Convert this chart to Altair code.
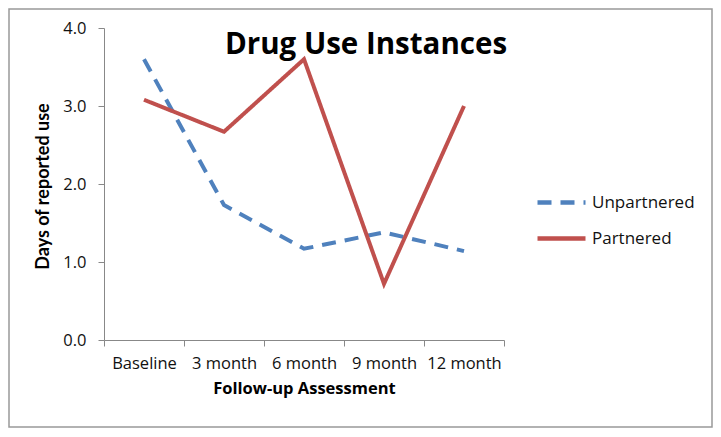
import altair as alt
import pandas as pd

categories = ["Baseline", "3 month", "6 month", "9 month", "12 month"]
unpartnered = [3.60, 1.73, 1.17, 1.38, 1.14]
partnered = [3.08, 2.67, 3.60, 0.72, 3.00]
series_names = ["Unpartnered", "Partnered"]
y_ticks = [0, 1, 2, 3, 4]
chart_title = "Drug Use Instances"

rows = []
for name, vals in zip(series_names, [unpartnered, partnered]):
    for c, v in zip(categories, vals):
        rows.append({"time": c, "value": v, "group": name})
df = pd.DataFrame(rows)

FONT = "Open Sans"
PLOT_L, PLOT_T = 104, 28
W, H = 400, 312

lines = alt.Chart(df).mark_line(strokeWidth=4).encode(
    x=alt.X("time:N", sort=categories,
            scale=alt.Scale(type="band", paddingInner=0, paddingOuter=0),
            axis=alt.Axis(title="Follow-up Assessment", labelAngle=0, tickBand="extent",
                          labelFontSize=16.5, labelColor="#111", labelPadding=9,
                          titleFontSize=16.5, titleFontWeight="bold", titleColor="#000",
                          titlePadding=9, domainColor="#888", tickColor="#888",
                          tickSize=6, grid=False, labelFont=FONT, titleFont=FONT)),
    y=alt.Y("value:Q", scale=alt.Scale(domain=[0, 4]),
            axis=alt.Axis(title="Days of reported use", values=y_ticks, format=".1f",
                          labelFontSize=16.5, labelColor="#111", labelPadding=12,
                          titleFontSize=18, titleFontWeight="bold", titleColor="#000",
                          titleX=-61, titleY=158, titleAngle=-90, titleBaseline="middle",
                          domainColor="#888", tickColor="#888",
                          tickSize=6, grid=False, labelFont=FONT, titleFont="Lato")),
    color=alt.Color("group:N", sort=series_names,
                    scale=alt.Scale(domain=series_names, range=["#4F81BD", "#C0504D"]),
                    legend=alt.Legend(title=None, orient="none", legendX=431, legendY=148,
                                      symbolType="stroke", symbolSize=2304, symbolStrokeWidth=4.5,
                                      labelFontSize=17, labelFont=FONT, labelColor="#111",
                                      rowPadding=-15, labelOffset=4)),
    strokeDash=alt.StrokeDash("group:N", sort=series_names,
                              scale=alt.Scale(domain=series_names, range=[[14, 9], [1, 0]]),
                              legend=None),
)

title_mark = alt.Chart(pd.DataFrame({"t": [chart_title]})).mark_text(
    font=FONT, fontSize=29.5, fontWeight="bold", color="#000",
    align="center", baseline="alphabetic"
).encode(text="t:N", x=alt.value(366 - PLOT_L), y=alt.value(54 - PLOT_T))

frame = alt.Chart(pd.DataFrame({"a": [0]})).mark_rect(
    fill="transparent", stroke="#999", strokeWidth=1.5
).encode(
    x=alt.value(9 - PLOT_L), x2=alt.value(712 - PLOT_L),
    y=alt.value(9 - PLOT_T), y2=alt.value(427 - PLOT_T),
)

chart = alt.layer(frame, lines, title_mark).properties(
    width=W, height=H,
    view=alt.ViewBackground(stroke="transparent", strokeWidth=0),
    padding={"left": PLOT_L - 8, "top": PLOT_T - 8, "right": 721 - 16 - (PLOT_L - 8) - W,
             "bottom": 437 - 16 - (PLOT_T - 8) - H},
    autosize=alt.AutoSizeParams(type="none"),
).configure_view(stroke="transparent", strokeWidth=0).configure_axis(grid=False).configure(background="white")

chart.save("out.html", embed_options={"renderer": "svg", "actions": False})
